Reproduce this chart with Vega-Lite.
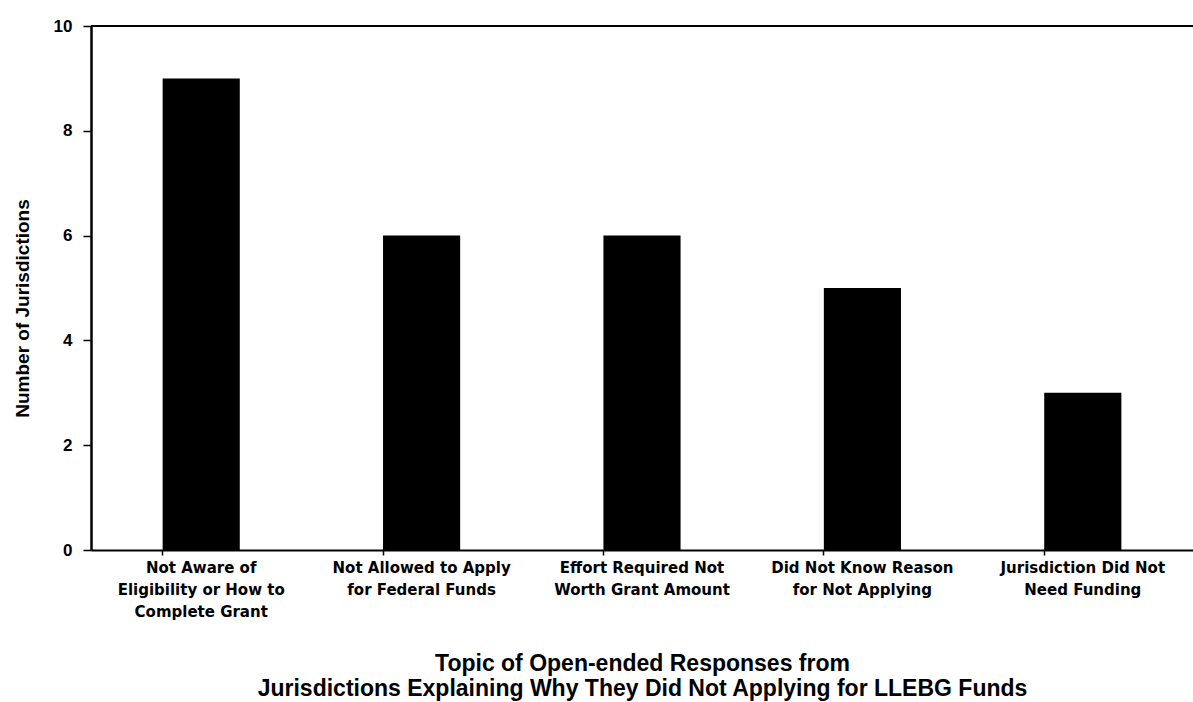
{
  "$schema": "https://vega.github.io/schema/vega-lite/v6.json",
  "autosize": "none",
  "width": 1102,
  "height": 524,
  "padding": {"left": 91, "top": 26, "right": 0, "bottom": 152},
  "background": "white",
  "config": {"view": {"stroke": null}},
  "data": {
    "values": [
      {"topic": "Not Aware of|Eligibility or How to|Complete Grant", "count": 9},
      {"topic": "Not Allowed to Apply|for Federal Funds", "count": 6},
      {"topic": "Effort Required Not|Worth Grant Amount", "count": 6},
      {"topic": "Did Not Know Reason|for Not Applying", "count": 5},
      {"topic": "Jurisdiction Did Not|Need Funding", "count": 3}
    ]
  },
  "layer": [
    {
      "mark": {"type": "bar", "color": "black"},
      "encoding": {
        "x": {
          "field": "topic",
          "type": "nominal",
          "sort": null,
          "scale": {"paddingInner": 0.65, "paddingOuter": 0.325},
          "axis": {
            "title": ["Topic of Open-ended Responses from", "Jurisdictions Explaining Why They Did Not Applying for LLEBG Funds"],
            "titleFont": "Liberation Sans",
            "titleFontSize": 23,
            "titleFontWeight": "bold",
            "titleColor": "black",
            "titleLineHeight": 25,
            "titlePadding": 33,
            "labelExpr": "split(datum.label, '|')",
            "labelAngle": 0,
            "labelFont": "DejaVu Sans",
            "labelFontSize": 15,
            "labelFontWeight": "bold",
            "labelColor": "black",
            "labelLineHeight": 22,
            "labelPadding": 5,
            "labelLimit": 300,
            "bandPosition": 0,
            "tickColor": "black",
            "tickSize": 5,
            "tickWidth": 1.5,
            "domainColor": "black",
            "domainWidth": 2
          }
        },
        "y": {
          "field": "count",
          "type": "quantitative",
          "scale": {"domain": [0, 10], "nice": false},
          "axis": {
            "title": "Number of Jurisdictions",
            "values": [0, 2, 4, 6, 8, 10],
            "grid": false,
            "titleFont": "Liberation Sans",
            "titleFontSize": 19,
            "titleFontWeight": "bold",
            "titleColor": "black",
            "titlePadding": 21,
            "titleY": 282,
            "labelFont": "Liberation Sans",
            "labelFontSize": 17,
            "labelFontWeight": "bold",
            "labelColor": "black",
            "labelPadding": 11,
            "tickColor": "black",
            "tickSize": 8,
            "tickWidth": 1.5,
            "domainColor": "black",
            "domainWidth": 2.5
          }
        }
      }
    },
    {
      "mark": {"type": "rule", "color": "black", "strokeWidth": 2},
      "encoding": {"y": {"datum": 10}}
    }
  ]
}
